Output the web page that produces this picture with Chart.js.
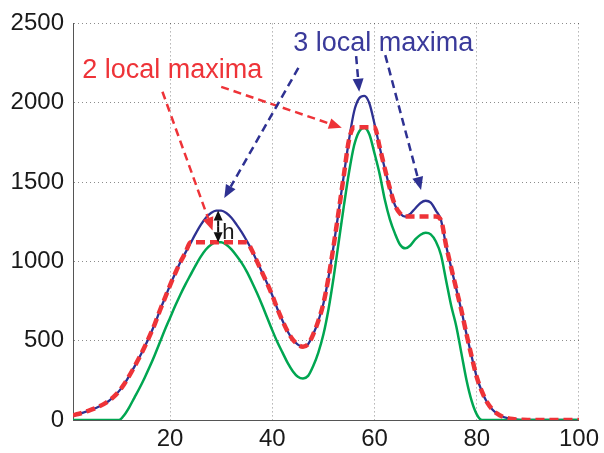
<!DOCTYPE html>
<html>
<head>
<meta charset="utf-8">
<script src="https://cdn.jsdelivr.net/npm/chart.js@4.4.1/dist/chart.umd.min.js"></script>
<style>
  html, body { margin: 0; padding: 0; background: #fff; }
  #wrap { width: 604px; height: 453px; }
</style>
</head>
<body>
<div id="wrap"><canvas id="chart" width="604" height="453"></canvas></div>
<script>
// Données
const xs = Array.from({ length: 100 }, (_, i) => i + 1);

const signal = [
    30, 38, 47, 58, 70, 84, 100, 120, 148, 182,
    225, 278, 335, 395, 460, 530, 605, 690, 770, 850,
    925, 995, 1055, 1115, 1175, 1230, 1275, 1305, 1320, 1320,
    1305, 1275, 1232, 1185, 1130, 1070, 1000, 930, 860, 785,
    700, 625, 558, 507, 475, 462, 478, 540, 625, 735,
    900, 1100, 1320, 1545, 1765, 1945, 2028, 2043, 1995, 1865,
    1720, 1585, 1460, 1354, 1302, 1282, 1300, 1335, 1368, 1382,
    1370, 1320, 1260, 1100, 960, 825, 690, 540, 400, 270,
    180, 112, 68, 40, 22, 12, 6, 3, 1, 0,
    0, 0, 0, 0, 0, 0, 0, 0, 0, 0
];

const shifted = [
    0, 0, 0, 0, 0, 0, 0, 0, 0, 0,
    30, 80, 140, 200, 265, 335, 410, 490, 570, 645,
    720, 790, 855, 915, 975, 1030, 1075, 1105, 1120, 1120,
    1105, 1075, 1035, 990, 935, 870, 800, 725, 645, 565,
    490, 425, 360, 308, 273, 262, 278, 340, 425, 540,
    700, 900, 1125, 1350, 1560, 1730, 1820, 1843, 1800, 1680,
    1550, 1390, 1265, 1175, 1105, 1082, 1100, 1140, 1168, 1180,
    1170, 1125, 1040, 880, 720, 590, 420, 250, 120, 35,
    0, 0, 0, 0, 0, 0, 0, 0, 0, 0,
    0, 0, 0, 0, 0, 0, 0, 0, 0, 0
];

const hmax = [
    30, 38, 47, 58, 70, 84, 100, 120, 148, 182,
    225, 278, 335, 395, 460, 530, 605, 690, 770, 850,
    925, 995, 1055, 1120, 1120, 1120, 1120, 1120, 1120, 1120,
    1120, 1120, 1120, 1120, 1120, 1070, 1000, 930, 860, 785,
    700, 625, 558, 507, 475, 462, 478, 540, 625, 735,
    900, 1100, 1320, 1545, 1765, 1845, 1845, 1845, 1845, 1845,
    1720, 1585, 1460, 1354, 1302, 1282, 1282, 1282, 1282, 1282,
    1282, 1282, 1260, 1100, 960, 825, 690, 540, 400, 270,
    180, 112, 68, 40, 22, 12, 6, 3, 1, 0,
    0, 0, 0, 0, 0, 0, 0, 0, 0, 0
];

const xTicks = [20, 40, 60, 80, 100];
const yTicks = [0, 500, 1000, 1500, 2000, 2500];

// Annotations (coordonnées en valeurs)
const redArrows = [[18.5, 2069, 28.3, 1195], [30, 2100, 53.6, 1842]];
const blueArrows = [[45.1, 2219, 30.6, 1400], [56.4, 2294, 57, 2069], [62.1, 2300, 69.1, 1450]];
const hArrow = [29.4, 1320, 1120];

const BLUE = '#2e3192';
const GREEN = '#00a651';
const RED = '#ee3338';

function toPoints(values) {
    return values.map((v, i) => ({ x: xs[i], y: v }));
}

function drawArrow(ctx, x1, y1, x2, y2, color, dash, width, len, half) {
    const ang = Math.atan2(y2 - y1, x2 - x1);
    const c = Math.cos(ang), s = Math.sin(ang);
    const bx = x2 - len * c, by = y2 - len * s;
    ctx.save();
    ctx.strokeStyle = color;
    ctx.fillStyle = color;
    ctx.lineWidth = width;
    ctx.setLineDash(dash);
    ctx.beginPath();
    ctx.moveTo(x1, y1);
    ctx.lineTo(bx, by);
    ctx.stroke();
    ctx.setLineDash([]);
    ctx.beginPath();
    ctx.moveTo(x2, y2);
    ctx.lineTo(bx + half * s, by - half * c);
    ctx.lineTo(bx - half * s, by + half * c);
    ctx.closePath();
    ctx.fill();
    ctx.restore();
}

const annotations = {
    id: 'annotations',
    afterDatasetsDraw(chart) {
        const ctx = chart.ctx;
        const sx = chart.scales.x, sy = chart.scales.y;
        const px = v => sx.getPixelForValue(v);
        const py = v => sy.getPixelForValue(v);

        redArrows.forEach(a => drawArrow(ctx, px(a[0]), py(a[1]), px(a[2]), py(a[3]), RED, [8, 5], 2.5, 13, 5.5));
        blueArrows.forEach(a => drawArrow(ctx, px(a[0]), py(a[1]), px(a[2]), py(a[3]), BLUE, [8, 5], 2.5, 13, 5.5));

        // double flèche h
        const hx = px(hArrow[0]), top = py(hArrow[1]), bot = py(hArrow[2]);
        const mid = (top + bot) / 2;
        drawArrow(ctx, hx, mid, hx, top, '#111', [], 2, 10, 4.5);
        drawArrow(ctx, hx, mid, hx, bot, '#111', [], 2, 10, 4.5);

        ctx.save();
        ctx.textBaseline = 'alphabetic';
        ctx.textAlign = 'left';
        ctx.font = '22px "Liberation Sans", Arial, sans-serif';
        ctx.fillStyle = '#1a1a1a';
        ctx.fillText('h', px(30.2), py(1140));
        ctx.font = '27px "Liberation Sans", Arial, sans-serif';
        ctx.fillStyle = RED;
        ctx.fillText('2 local maxima', px(2.8), py(2156));
        ctx.fillStyle = '#3a3a9a';
        ctx.fillText('3 local maxima', px(44.1), py(2325));
        ctx.restore();
    }
};

Chart.defaults.font.family = '"Liberation Sans", Arial, sans-serif';
Chart.defaults.color = '#222';

new Chart(document.getElementById('chart'), {
    type: 'line',
    data: {
        datasets: [
            {
                data: toPoints(hmax),
                borderColor: RED,
                borderWidth: 4.5,
                borderDash: [9, 5],
                order: 0
            },
            {
                data: toPoints(shifted),
                borderColor: GREEN,
                borderWidth: 2.5,
                order: 1
            },
            {
                data: toPoints(signal),
                borderColor: BLUE,
                borderWidth: 2.3,
                order: 2
            }
        ]
    },
    options: {
        responsive: false,
        animation: false,
        layout: { padding: { top: 21, right: 25, left: 0, bottom: 0 } },
        elements: {
            point: { radius: 0 },
            line: { cubicInterpolationMode: 'monotone', fill: false }
        },
        plugins: {
            legend: { display: false },
            tooltip: { enabled: false }
        },
        scales: {
            x: {
                type: 'linear',
                min: 1,
                max: 100,
                afterBuildTicks: scale => { scale.ticks = xTicks.map(v => ({ value: v })); },
                afterFit: scale => { scale.height = 33; },
                ticks: { font: { size: 24 }, padding: 5, color: '#1a1a1a', maxRotation: 0, callback: v => String(v) },
                grid: { color: 'rgba(0,0,0,0.45)', lineWidth: 1, drawTicks: false },
                border: { display: true, color: '#555', width: 1, dash: [1, 3] }
            },
            y: {
                min: 0,
                max: 2500,
                afterBuildTicks: scale => { scale.ticks = yTicks.map(v => ({ value: v })); },
                afterFit: scale => { scale.width = 73; },
                ticks: { font: { size: 24 }, padding: 9, color: '#1a1a1a', callback: v => String(v) },
                grid: { color: 'rgba(0,0,0,0.45)', lineWidth: 1, drawTicks: false },
                border: { display: true, color: '#555', width: 1, dash: [1, 3] }
            }
        }
    },
    plugins: [annotations]
});
</script>
</body>
</html>
